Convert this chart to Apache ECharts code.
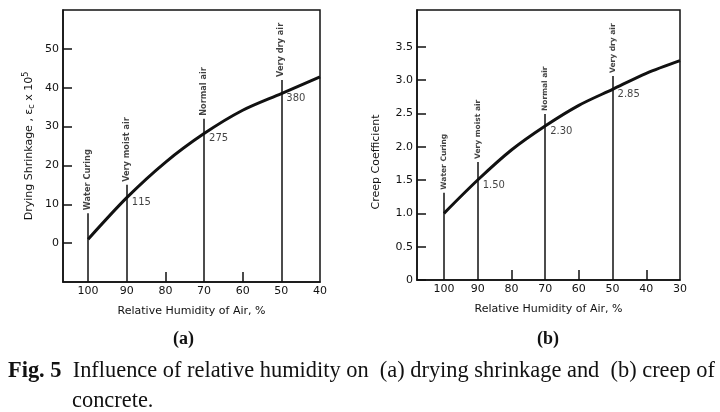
<!DOCTYPE html>
<html><head><meta charset="utf-8">
<script src="https://cdn.jsdelivr.net/npm/echarts@6/dist/echarts.min.js"></script>
<style>html,body{margin:0;padding:0;background:#fff}#c{width:720px;height:412px}</style>
</head><body><div id="c"></div>
<script>
// Chart (a) drying shrinkage
const humA = [100, 90, 80, 70, 60, 50, 40];
const shrinkA = [1.0, 11.7, 20.8, 28.2, 34.2, 38.5, 42.8];
const condXA = [100, 90, 70, 50];
const condTopA = [7.7, 15, 32, 42];
const annotXA = [90, 70, 50];
const annotYA = [11.7, 28.2, 38.5];
const annotTextA = ['115', '275', '380'];
const yTicksA = [0, 10, 20, 30, 40, 50];
const xTicksA = [100, 90, 80, 70, 60, 50, 40];
const xMinorA = [80, 60];

// Chart (b) creep coefficient
const humB = [100, 90, 80, 70, 60, 50, 40, 30];
const creepB = [1.0, 1.5, 1.95, 2.31, 2.62, 2.86, 3.1, 3.29];
const condXB = [100, 90, 70, 50];
const condTopB = [1.31, 1.77, 2.49, 3.06];
const annotXB = [90, 70, 50];
const annotYB = [1.5, 2.31, 2.86];
const annotTextB = ['1.50', '2.30', '2.85'];
const yTicksB = [0, 0.5, 1.0, 1.5, 2.0, 2.5, 3.0, 3.5];
const xTicksB = [100, 90, 80, 70, 60, 50, 40, 30];
const xMinorB = [80, 60, 40];

const condNames = ['Water Curing', 'Very moist air', 'Normal air', 'Very dry air'];

const INK = '#111';
const SANS = 'DejaVu Sans';
const SERIF = 'Liberation Serif';

function xAxis(gi, min, max, labels, minor) {
  return {
    type: 'value', gridIndex: gi, inverse: true, min: min, max: max,
    axisLine: {show: true, onZero: false, lineStyle: {color: INK, width: 1.5}},
    axisTick: {show: true, inside: true, length: 10, customValues: minor, lineStyle: {color: INK, width: 1.5}},
    axisLabel: {customValues: labels, color: INK, fontFamily: SANS, fontSize: 11, margin: 4},
    splitLine: {show: false},
    name: 'Relative Humidity of Air, %', nameLocation: 'middle', nameGap: 24,
    nameTextStyle: {color: INK, fontFamily: SANS, fontSize: 11}
  };
}
function yAxis(gi, min, max, labels, fmt, name, nameGap, pad) {
  return {
    type: 'value', gridIndex: gi, min: min, max: max,
    axisLine: {show: true, onZero: false, lineStyle: {color: INK, width: 1.5}},
    axisTick: {show: true, inside: true, length: 9, customValues: labels, lineStyle: {color: INK, width: 1.5}},
    axisLabel: {customValues: labels, formatter: fmt, color: INK, fontFamily: SANS, fontSize: 11, margin: 4},
    splitLine: {show: false},
    name: name, nameLocation: 'middle', nameGap: nameGap,
    nameTextStyle: {color: INK, fontFamily: SANS, fontSize: 11, padding: pad,
      rich: {sub: {fontSize: 8, fontFamily: SANS, color: INK, verticalAlign: 'bottom', padding: [6,0,0,0]},
             sup: {fontSize: 8, fontFamily: SANS, color: INK, verticalAlign: 'top', padding: [0,0,6,0]}}}
  };
}
function curve(gi, xs, ys, condX, condTop, yMin) {
  return {
    type: 'line', xAxisIndex: gi, yAxisIndex: gi, smooth: 0.3, showSymbol: false, silent: true,
    data: xs.map((x, i) => [x, ys[i]]),
    lineStyle: {color: INK, width: 3},
    markLine: {
      silent: true, symbol: 'none', label: {show: false},
      lineStyle: {color: INK, width: 1.5, type: 'solid'},
      data: condX.map((x, i) => [{coord: [x, yMin]}, {coord: [x, condTop[i]]}])
    }
  };
}
function condLabels(gi, condX, condTop, fs) {
  return {
    type: 'scatter', xAxisIndex: gi, yAxisIndex: gi, symbolSize: 0, silent: true,
    data: condX.map((x, i) => ({value: [x, condTop[i]], name: condNames[i]})),
    label: {show: true, formatter: '{b}', position: 'top', distance: 3, rotate: 90,
      align: 'left', verticalAlign: 'middle', fontFamily: SANS, fontSize: fs, fontWeight: 'bold', color: INK}
  };
}
function annot(gi, xs, ys, texts) {
  return {
    type: 'scatter', xAxisIndex: gi, yAxisIndex: gi, symbolSize: 0, silent: true,
    data: xs.map((x, i) => ({value: [x, ys[i]], name: texts[i]})),
    label: {show: true, formatter: '{b}', position: 'right', distance: 5, offset: [0, 5],
      fontFamily: SANS, fontSize: 10, color: INK}
  };
}

const chart = echarts.init(document.getElementById('c'), null, {renderer: 'canvas'});
chart.setOption({
  backgroundColor: '#fff',
  animation: false,
  grid: [
    {left: 63, top: 10, right: 400, bottom: 130, show: true, borderColor: INK, borderWidth: 1.5, backgroundColor: 'transparent'},
    {left: 417, top: 10, right: 40, bottom: 132, show: true, borderColor: INK, borderWidth: 1.5, backgroundColor: 'transparent'}
  ],
  xAxis: [xAxis(0, 40, 106.5, xTicksA, xMinorA), xAxis(1, 30, 108, xTicksB, xMinorB)],
  yAxis: [
    yAxis(0, -10, 60, yTicksA, v => String(v), 'Drying Shrinkage , ε{sub|c} x 10{sup|5}', 27, [0,0,0,0]),
    yAxis(1, 0, 4.05, yTicksB, v => v === 0 ? '0' : v.toFixed(1), 'Creep Coefficient', 35, [0,34,0,0])
  ],
  series: [
    curve(0, humA, shrinkA, condXA, condTopA, -10),
    condLabels(0, condXA, condTopA, 8.2),
    annot(0, annotXA, annotYA, annotTextA),
    curve(1, humB, creepB, condXB, condTopB, 0),
    condLabels(1, condXB, condTopB, 7.5),
    annot(1, annotXB, annotYB, annotTextB)
  ],
  graphic: [
    {type: 'text', left: 173, top: 330, style: {text: '(a)', fontFamily: SERIF, fontSize: 18, fontWeight: 'bold', fill: INK, textAlign: 'center', textVerticalAlign: 'middle'}},
    {type: 'text', left: 537, top: 330, style: {text: '(b)', fontFamily: SERIF, fontSize: 18, fontWeight: 'bold', fill: INK, textAlign: 'center', textVerticalAlign: 'middle'}},
    {type: 'text', left: 8, top: 360, style: {
      text: '{b|Fig. 5}  Influence of relative humidity on  (a) drying shrinkage and  (b) creep of',
      fontFamily: SERIF, fontSize: 22.4, fill: INK,
      rich: {b: {fontFamily: SERIF, fontSize: 22.4, fontWeight: 'bold', fill: INK}}}},
    {type: 'text', left: 72, top: 390, style: {text: 'concrete.', fontFamily: SERIF, fontSize: 22.4, fill: INK}}
  ]
});
</script>
</body></html>
